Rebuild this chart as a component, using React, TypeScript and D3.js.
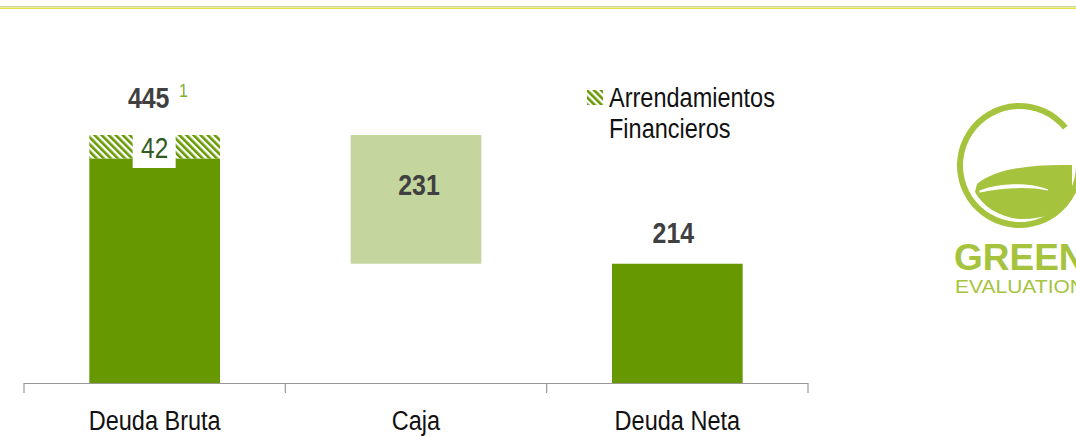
import React from "react";
import * as d3 from "d3";

const categories = ["Deuda Bruta", "Caja", "Deuda Neta"];
const solidValues = [403, 231, 214];
const hatchedValues = [42, 0, 0];
const baseValues = [0, 214, 0];
const topLabels = ["445", "231", "214"];
const hatchLabel = "42";
const legendLines = ["Arrendamientos", "Financieros"];
const maxValue = 445;

const W = 1076;
const H = 437;
const font = "'Liberation Sans', Arial, sans-serif";

function NText(props: {
  x: number;
  y: number;
  size: number;
  fill: string;
  bold?: boolean;
  anchor?: string;
  sx?: number;
  children: React.ReactNode;
}) {
  const { x, y, size, fill, bold, anchor, sx = 0.84, children } = props;
  return (
    <text
      transform={`translate(${x},${y}) scale(${sx},1)`}
      textAnchor={anchor || "start"}
      fontFamily={font}
      fontSize={size}
      fontWeight={bold ? "bold" : "normal"}
      fill={fill}
    >
      {children}
    </text>
  );
}

export default function App() {
  const x = d3.scaleBand().domain(categories).range([24, 808]).paddingInner(0.5).paddingOuter(0.25);
  const y = d3.scaleLinear().domain([0, maxValue]).range([383, 135]);
  const step = x.step();
  const bw = x.bandwidth();
  const cx = (c: string) => x(c)! + bw / 2;
  const tickXs = d3.range(categories.length + 1).map((i) => 24 + i * step);
  const green = "#669900";
  const light = "#c4d69e";
  const logo = "#a6c33e";
  const dark = "#404040";

  return (
    <svg width={W} height={H} style={{ position: "absolute", left: 0, top: 0 }}>
      <defs>
        <pattern id="hatch" patternUnits="userSpaceOnUse" width="5" height="5" patternTransform="rotate(-45)">
          <rect width="5" height="5" fill="#ffffff" />
          <rect width="2.6" height="5" fill={green} />
        </pattern>
      </defs>
      <rect width={W} height={H} fill="#ffffff" />
      {/* top decorative line */}
      <line x1={0} x2={W} y1={6.5} y2={6.5} stroke="#c9d38f" strokeWidth={1} />
      <line x1={0} x2={W} y1={8.3} y2={8.3} stroke="#dfe24a" strokeWidth={1.6} />

      {/* bars */}
      {categories.map((c, i) => {
        const x0 = x(c)!;
        const base = baseValues[i];
        const solidTop = base + solidValues[i];
        const fill = i === 1 ? light : green;
        return (
          <g key={c}>
            <rect x={x0} y={y(solidTop)} width={bw} height={y(base) - y(solidTop)} fill={fill} />
            {hatchedValues[i] > 0 && (
              <rect
                x={x0}
                y={y(solidTop + hatchedValues[i])}
                width={bw}
                height={y(solidTop) - y(solidTop + hatchedValues[i])}
                fill="url(#hatch)"
              />
            )}
          </g>
        );
      })}

      {/* hatched label box */}
      <rect x={cx(categories[0]) - 22} y={y(maxValue)} width={43} height={33} fill="#ffffff" />
      <NText x={cx(categories[0])} y={y(maxValue) + 23} size={29} fill="#2f5a22" anchor="middle">
        {hatchLabel}
      </NText>

      {/* value labels */}
      <NText x={cx(categories[0]) - 6} y={108} size={29} bold fill={dark} anchor="middle" sx={0.86}>
        {topLabels[0]}
      </NText>
      <NText x={179} y={97} size={19} fill="#7eae30">1</NText>
      <NText x={cx(categories[1]) + 3} y={195} size={29} bold fill={dark} anchor="middle" sx={0.86}>
        {topLabels[1]}
      </NText>
      <NText x={cx(categories[2]) - 4} y={243} size={29} bold fill={dark} anchor="middle" sx={0.86}>
        {topLabels[2]}
      </NText>

      {/* legend */}
      <rect x={587} y={90} width={16} height={15} fill="url(#hatch)" />
      <NText x={609} y={107} size={28} fill="#111">{legendLines[0]}</NText>
      <NText x={609} y={138} size={28} fill="#111">{legendLines[1]}</NText>

      {/* axis */}
      <line x1={24} x2={808} y1={383.5} y2={383.5} stroke="#999" strokeWidth={1.2} />
      {tickXs.map((tx, i) => (
        <line key={i} x1={tx} x2={tx} y1={383} y2={393} stroke="#999" strokeWidth={1.2} />
      ))}
      {categories.map((c) => (
        <NText key={c} x={cx(c)} y={430} size={28} fill="#111" anchor="middle">
          {c}
        </NText>
      ))}

      {/* logo */}
      <g>
        <path
          d={d3.arc()({ innerRadius: 56.5, outerRadius: 62.5, startAngle: Math.PI / 2, endAngle: 2 * Math.PI + 0.88 }) || ""}
          transform="translate(1019.5,165.5)"
          fill={logo}
        />
        <path d="M977,184 C995,169 1030,164 1072,165 L1072,199 C1060,213 1040,220 1019,219 C1000,217 983,207 975,192 Z" fill={logo} />
        <path d="M980,191 C1000,183 1030,183 1048,190 C1030,186 1000,187 980,192 Z" fill="#ffffff" stroke="#ffffff" strokeWidth={1.2} />
        <text x={954} y={270} fontFamily={font} fontSize={37} fontWeight="bold" fill={logo}>GREEN</text>
        <text x={955} y={293} fontFamily={font} fontSize={19} fill={logo} textLength={130} lengthAdjust="spacingAndGlyphs">EVALUATION</text>
      </g>
    </svg>
  );
}
